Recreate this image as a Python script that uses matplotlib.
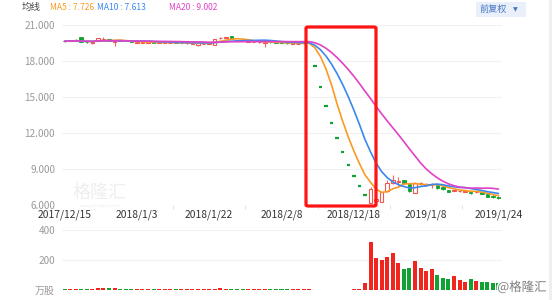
import numpy as np
import pandas as pd
import matplotlib
matplotlib.use('Agg')
import matplotlib.pyplot as plt
from matplotlib.patches import FancyBboxPatch, Rectangle
from matplotlib.lines import Line2D
import matplotlib.patheffects as pe

plt.rcParams['font.family'] = ['Noto Sans CJK SC', 'DejaVu Sans']

# ---------------- data ----------------
tick_index = [0, 13, 26, 39, 52, 65, 78]
tick_labels = ['2017/12/15', '2018/1/3', '2018/1/22', '2018/2/8',
               '2018/12/18', '2019/1/8', '2019/1/24']

opens = [19.66, 19.62, 19.66, 19.95, 19.57, 19.50, 19.64, 19.76, 19.78, 19.60,
         19.70, 19.67, 19.60, 19.50, 19.50, 19.50, 19.54, 19.48, 19.48, 19.47,
         19.52, 19.46, 19.44, 19.42, 19.28, 19.38, 19.42, 19.30, 19.86, 19.92,
         20.02, 19.70, 19.68, 19.58, 19.56, 19.54, 19.48, 19.56, 19.54, 19.52,
         19.48, 19.42, 19.40, 19.44, 19.47,
         17.55, 15.80, 14.22, 12.80, 11.52, 10.37, 9.33, 8.40, 7.56, 6.80,
         6.12, 6.35, 6.25, 7.17, 7.78, 7.90, 8.06, 7.73, 7.00, 7.74,
         7.68, 7.62, 7.64, 7.50, 7.22, 7.18, 7.14, 7.10, 7.08, 7.04,
         7.08, 6.89, 6.74, 6.67]
closes = [19.62, 19.66, 19.70, 19.60, 19.52, 19.55, 19.87, 19.80, 19.64, 19.65,
          19.65, 19.62, 19.55, 19.53, 19.54, 19.53, 19.50, 19.52, 19.52, 19.50,
          19.48, 19.49, 19.46, 19.45, 19.50, 19.42, 19.45, 19.80, 19.90, 19.96,
          19.84, 19.66, 19.65, 19.61, 19.59, 19.57, 19.52, 19.53, 19.50, 19.48,
          19.44, 19.45, 19.43, 19.47, 19.50,
          17.55, 15.80, 14.22, 12.80, 11.52, 10.37, 9.33, 8.40, 7.56, 6.80,
          7.28, 6.45, 7.08, 7.78, 8.06, 7.94, 7.78, 7.17, 7.83, 7.80,
          7.74, 7.68, 7.36, 7.28, 7.06, 7.24, 7.18, 7.15, 6.95, 7.08,
          6.89, 6.67, 6.62, 6.53]
highs = [19.70, 19.70, 19.82, 19.98, 19.60, 19.58, 19.90, 19.96, 19.80, 19.72,
         19.72, 19.70, 19.62, 19.56, 19.56, 19.55, 19.56, 19.54, 19.55, 19.53,
         19.54, 19.52, 19.50, 19.48, 19.52, 19.46, 19.50, 19.82, 19.95, 20.00,
         20.05, 19.74, 19.70, 19.64, 19.62, 19.60, 19.60, 19.58, 19.56, 19.54,
         19.50, 19.48, 19.46, 19.50, 19.53,
         17.55, 15.80, 14.22, 12.80, 11.52, 10.37, 9.33, 8.40, 7.56, 6.80,
         7.47, 6.60, 7.10, 8.10, 8.48, 8.33, 8.10, 7.80, 7.90, 7.90,
         7.80, 7.85, 7.70, 7.55, 7.26, 7.28, 7.22, 7.20, 7.12, 7.12,
         7.10, 6.92, 6.78, 6.70]
lows = [19.58, 19.60, 19.62, 19.58, 19.48, 19.42, 19.62, 19.62, 19.60, 19.22,
        19.62, 19.60, 19.52, 19.48, 19.48, 19.47, 19.48, 19.46, 19.46, 19.45,
        19.45, 19.44, 19.40, 19.38, 19.25, 19.35, 19.38, 19.28, 19.82, 19.88,
        19.82, 19.62, 19.60, 19.55, 19.52, 19.50, 19.17, 19.50, 19.47, 19.45,
        19.42, 19.40, 19.38, 19.42, 19.45,
        17.55, 15.80, 14.22, 12.80, 11.52, 10.37, 9.33, 8.40, 7.56, 6.80,
        6.12, 6.20, 6.20, 7.10, 7.70, 7.64, 7.70, 7.10, 6.95, 7.65,
        7.60, 7.40, 7.30, 7.25, 7.02, 7.15, 7.10, 7.08, 6.92, 7.00,
        6.86, 6.64, 6.58, 6.50]
volumes = [5, 6, 6, 9, 10, 8, 11, 11, 13, 12,
           10, 8, 6, 6, 7, 7, 6, 7, 9, 6,
           6, 5, 5, 5, 6, 7, 6, 8, 11, 8,
           7, 5, 5, 5, 6, 5, 7, 5, 5, 6,
           5, 5, 6, 6, 5,
           3, 3, 3, 3, 3, 3, 3, 4, 9, 48,
           322, 211, 198, 218, 244, 178, 140, 149, 193, 144,
           129, 140, 100, 78, 71, 95, 67, 56, 73, 60,
           51, 56, 50, 45]

ma_windows = [5, 10, 20]
ma_names = ['MA5', 'MA10', 'MA20']
ma_header_values = ['7.726', '7.613', '9.002']
ma_colors = ['#fb9a22', '#3b87f0', '#e042c6']

RED = '#f0261e'
GREEN = '#12a233'

# ---------------- figure ----------------
W, H = 554, 300
fig = plt.figure(figsize=(W / 100, H / 100), dpi=100)


def rect(x0, y0, x1, y1):
    return [x0 / W, 1 - y1 / H, (x1 - x0) / W, (y1 - y0) / H]


axp = fig.add_axes(rect(62, 24.7, 502, 204.7))
axv = fig.add_axes(rect(62, 230, 502, 290))

o = np.array(opens)
c = np.array(closes)
hi = np.array(highs)
lo = np.array(lows)
v = np.array(volumes)
x = np.arange(len(c))
prev = np.concatenate([[c[0]], c[:-1]])

up = c > o
down = c < o
flat = c == o
flat_col = np.where(c >= prev, RED, GREEN)

bw = 0.62
wick_col = np.where(up, '#f26a64', np.where(down, GREEN, flat_col))
axp.vlines(x, lo, hi, colors=wick_col, lw=0.8, zorder=2)
axp.bar(x[up], (c - o)[up], bottom=o[up], width=bw, facecolor='white',
        edgecolor='#f25650', linewidth=0.8, zorder=3)
axp.bar(x[down], (o - c)[down], bottom=c[down], width=bw, facecolor=GREEN,
        edgecolor=GREEN, linewidth=0.6, zorder=3)
axp.hlines(c[flat], x[flat] - bw / 2, x[flat] + bw / 2,
           colors=flat_col[flat], lw=1.6, zorder=3)

s = pd.Series(c)
for wdw, col in zip(ma_windows, ma_colors):
    ma = s.rolling(wdw, min_periods=1).mean()
    axp.plot(x, ma, color=col, lw=1.2, zorder=4, solid_capstyle='round')

axp.set_xlim(-0.45, len(c) - 1 + 0.63)
axp.set_ylim(6, 21)
axp.set_yticks([6, 9, 12, 15, 18, 21])
axp.set_yticklabels(['6.000', '9.000', '12.000', '15.000', '18.000', '21.000'])
axp.grid(axis='y', color='#f1f1f1', lw=0.8, zorder=0)
axp.set_axisbelow(True)
for sp in axp.spines.values():
    sp.set_visible(False)
axp.tick_params(axis='y', length=0, pad=5, labelsize=7.2, labelcolor='#9a9a9a')
axp.set_xticks(tick_index)
axp.set_xticklabels(tick_labels)
axp.tick_params(axis='x', length=0, pad=3.5, labelsize=7.4, labelcolor='#333333')
axp.set_xticks([t + 6.5 for t in tick_index[1:-1]], minor=True)
axp.tick_params(axis='x', which='minor', length=3, width=0.6, color='#dddddd')

vcol = np.where(c >= o, RED, GREEN)
axv.bar(x, v, width=0.72, color=vcol, edgecolor='none', zorder=2)
axv.set_xlim(axp.get_xlim())
axv.set_ylim(0, 400)
axv.set_yticks([0, 200, 400])
axv.set_yticklabels(['万股', '200', '400'])
axv.grid(axis='y', color='#f1f1f1', lw=0.8, zorder=0)
axv.set_axisbelow(True)
axv.set_xticks([])
for sp in axv.spines.values():
    sp.set_visible(False)
axv.tick_params(axis='y', length=0, pad=5, labelsize=7.2, labelcolor='#9a9a9a')

fx0, fy0 = 306 / W, 1 - 206 / H
box = FancyBboxPatch((fx0, fy0), 70 / W, 179 / H,
                     boxstyle='round,pad=0,rounding_size=0.004',
                     transform=fig.transFigure, facecolor='none',
                     edgecolor='#ff1414', linewidth=2.3, zorder=10)
fig.patches.append(box)

fig.text(22 / W, 1 - 7.5 / H, '均线', fontsize=6.8, color='#444444', va='center')
xs = [50, 97, 169]
for xp, nm, val, col in zip(xs, ma_names, ma_header_values, ma_colors):
    fig.text(xp / W, 1 - 7.5 / H, f'{nm} : {val}', fontsize=6.1, color=col, va='center')

btn = Rectangle((476 / W, 1 - 17 / H), 50 / W, 15 / H, transform=fig.transFigure,
                facecolor='#e9f0fa', edgecolor='none')
fig.patches.append(btn)
fig.text(480 / W, 1 - 9.5 / H, '前复权', fontsize=6.6, color='#4677c2', va='center')
fig.text(513 / W, 1 - 9.5 / H, '▼', fontsize=4.5, color='#4677c2', va='center',
         family=['DejaVu Sans'])

fig.text(100 / W, 1 - 193 / H, '格隆汇', fontsize=13, color='#eeeeee', ha='center',
         va='center', zorder=1)
fig.text(100 / W, 1 - 206 / H, 'www.gelonghui.com', fontsize=3, color='#eeeeee',
         ha='center', va='center', family=['DejaVu Sans'])
fig.text(522 / W, 1 - 287 / H, '@格隆汇', fontsize=9, color='#7d7d7d', ha='center',
         va='center', path_effects=[pe.withStroke(linewidth=2, foreground='white')],
         zorder=20)

fig.add_artist(Line2D([550 / W, 550 / W], [0, 1], transform=fig.transFigure,
                      color='#eeeeee', lw=2))

fig.savefig('out.png', dpi=100)
